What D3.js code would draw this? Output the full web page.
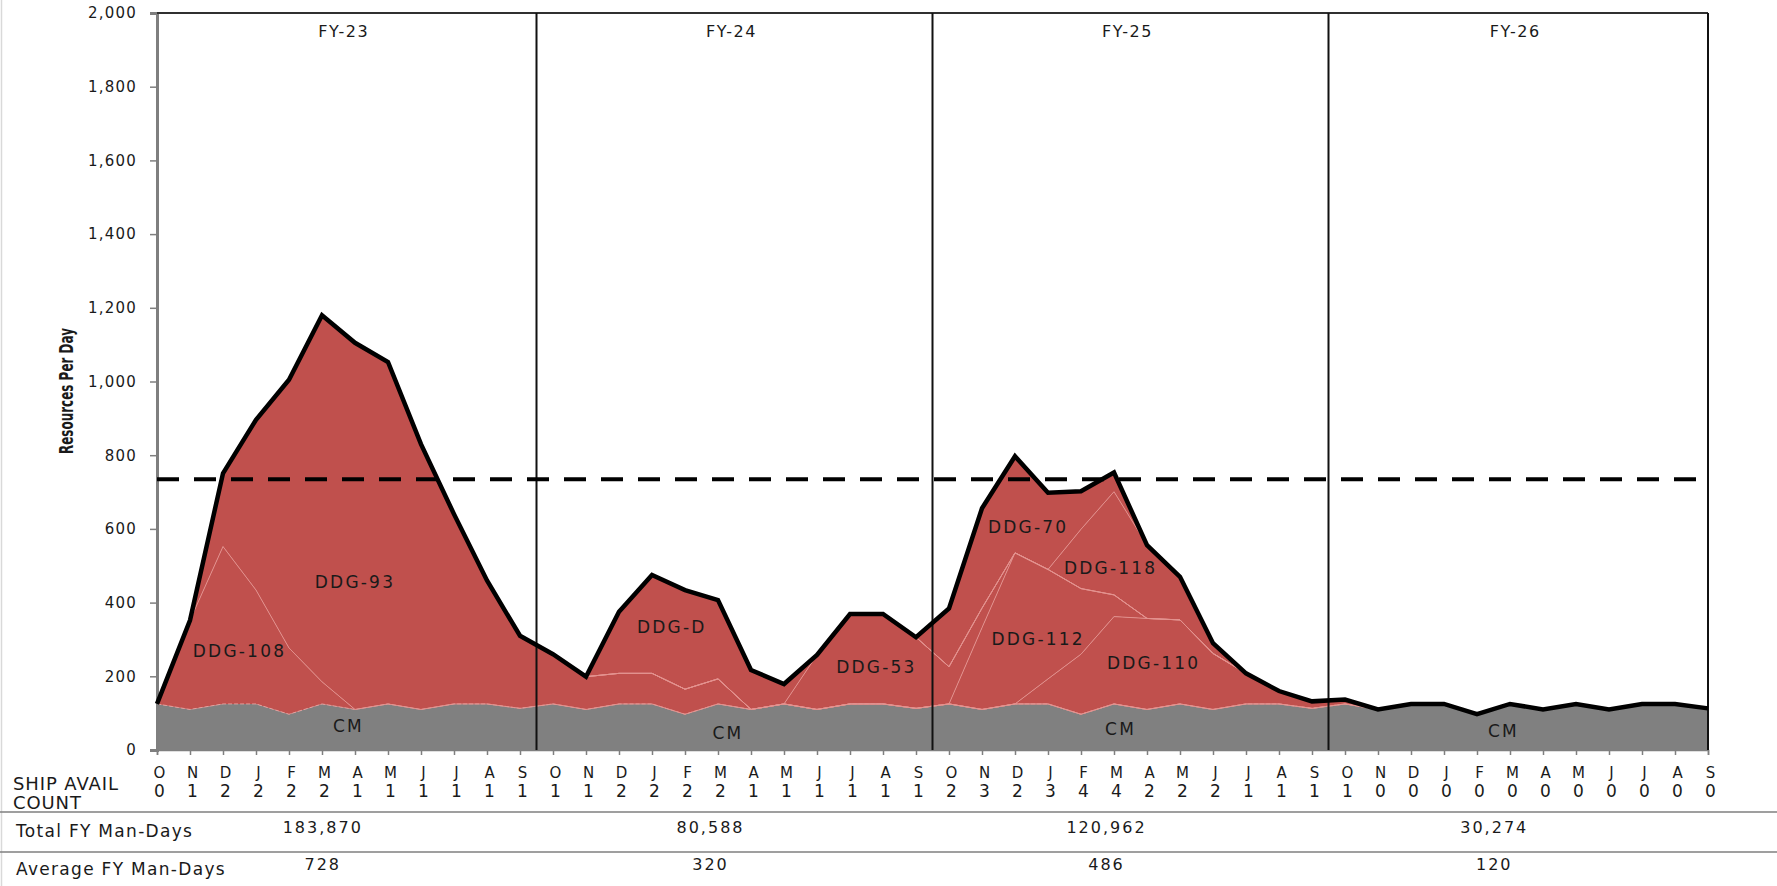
<!DOCTYPE html>
<html>
<head>
<meta charset="utf-8">
<script src="https://cdn.jsdelivr.net/npm/d3@7"></script>
<style>
body { margin: 0; background: #fff; }
text { font-family: "DejaVu Sans", sans-serif; fill: #1a1a1a; }
</style>
</head>
<body>
<svg width="1777" height="886"></svg>
<script>
const months = ['O', 'N', 'D', 'J', 'F', 'M', 'A', 'M', 'J', 'J', 'A', 'S'];
const fiscalYears = ['FY-23', 'FY-24', 'FY-25', 'FY-26'];
const totalManDays = ['183,870', '80,588', '120,962', '30,274'];
const averageManDays = ['728', '320', '486', '120'];
const shipAvailCount = [0, 1, 2, 2, 2, 2, 1, 1, 1, 1, 1, 1,
  1, 1, 2, 2, 2, 2, 1, 1, 1, 1, 1, 1,
  2, 3, 2, 3, 4, 4, 2, 2, 2, 1, 1, 1,
  1, 0, 0, 0, 0, 0, 0, 0, 0, 0, 0, 0];
const yTicks = [0, 200, 400, 600, 800, 1000, 1200, 1400, 1600, 1800, 2000];
const capacityLine = 735;

// resources per day, one value per month, Oct FY-23 .. Sep FY-26
const cm = [125, 110, 125, 125, 97, 125, 110, 125, 110, 125, 125, 113,
  125, 110, 125, 125, 97, 125, 110, 125, 110, 125, 125, 113,
  125, 110, 125, 125, 97, 125, 110, 125, 110, 125, 125, 113,
  125, 110, 125, 125, 97, 125, 110, 125, 110, 125, 125, 113];
const ddg108 = [0, 242, 427, 309, 180, 60, 0, 0, 0, 0, 0, 0,
  0, 0, 0, 0, 0, 0, 0, 0, 0, 0, 0, 0,
  0, 0, 0, 0, 0, 0, 0, 0, 0, 0, 0, 0,
  0, 0, 0, 0, 0, 0, 0, 0, 0, 0, 0, 0];
const ddg93 = [0, 0, 199, 462, 728, 995, 995, 928, 720, 515, 335, 197,
  135, 89, 83, 83, 68, 68, 0, 0, 0, 0, 0, 0,
  0, 0, 0, 0, 0, 0, 0, 0, 0, 0, 0, 0,
  0, 0, 0, 0, 0, 0, 0, 0, 0, 0, 0, 0];
const ddg110 = [0, 0, 0, 0, 0, 0, 0, 0, 0, 0, 0, 0,
  0, 0, 0, 0, 0, 0, 0, 0, 0, 0, 0, 0,
  0, 0, 0, 68, 163, 237, 247, 228, 152, 83, 35, 19,
  12, 0, 0, 0, 0, 0, 0, 0, 0, 0, 0, 0];
const ddg112 = [0, 0, 0, 0, 0, 0, 0, 0, 0, 0, 0, 0,
  0, 0, 0, 0, 0, 0, 0, 0, 0, 0, 0, 0,
  0, 222, 410, 297, 178, 59, 0, 0, 0, 0, 0, 0,
  0, 0, 0, 0, 0, 0, 0, 0, 0, 0, 0, 0];
const ddg53 = [0, 0, 0, 0, 0, 0, 0, 0, 0, 0, 0, 0,
  0, 0, 0, 0, 0, 0, 0, 0, 148, 244, 244, 193,
  101, 53, 0, 0, 0, 0, 0, 0, 0, 0, 0, 0,
  0, 0, 0, 0, 0, 0, 0, 0, 0, 0, 0, 0];
const ddgD = [0, 0, 0, 0, 0, 0, 0, 0, 0, 0, 0, 0,
  0, 0, 167, 267, 269, 214, 107, 54, 0, 0, 0, 0,
  0, 0, 0, 0, 0, 0, 0, 0, 0, 0, 0, 0,
  0, 0, 0, 0, 0, 0, 0, 0, 0, 0, 0, 0];
const ddg118 = [0, 0, 0, 0, 0, 0, 0, 0, 0, 0, 0, 0,
  0, 0, 0, 0, 0, 0, 0, 0, 0, 0, 0, 0,
  0, 0, 0, 0, 161, 280, 199, 117, 28, 0, 0, 0,
  0, 0, 0, 0, 0, 0, 0, 0, 0, 0, 0, 0];
const ddg70 = [0, 0, 0, 0, 0, 0, 0, 0, 0, 0, 0, 0,
  0, 0, 0, 0, 0, 0, 0, 0, 0, 0, 0, 0,
  158, 271, 262, 208, 103, 52, 0, 0, 0, 0, 0, 0,
  0, 0, 0, 0, 0, 0, 0, 0, 0, 0, 0, 0];

const seriesKeys = ['CM', 'DDG-108', 'DDG-93', 'DDG-110', 'DDG-112', 'DDG-53', 'DDG-D', 'DDG-118', 'DDG-70'];
const seriesValues = [cm, ddg108, ddg93, ddg110, ddg112, ddg53, ddgD, ddg118, ddg70];

// where the name of each area sits: [name, month index, value]
const areaLabels = [
  ['DDG-108', 2.5, 269], ['DDG-93', 6.0, 456], ['CM', 5.8, 65],
  ['DDG-D', 15.6, 334], ['CM', 17.3, 46], ['DDG-53', 21.8, 225],
  ['DDG-70', 26.4, 605], ['DDG-118', 28.9, 494], ['DDG-112', 26.7, 301],
  ['DDG-110', 30.2, 236], ['CM', 29.2, 57], ['CM', 40.8, 52]
];

const table = months.concat(months, months, months).map((m, i) => {
  const row = { i: i };
  seriesKeys.forEach((k, s) => { row[k] = seriesValues[s][i]; });
  return row;
});

const svg = d3.select('svg');
const width = +svg.attr('width');
const height = +svg.attr('height');
const margin = { top: 13, right: 69, bottom: 136, left: 157 };
const chartWidth = width - margin.left - margin.right;
const chartHeight = height - margin.top - margin.bottom;

svg.append('rect').attr('width', width).attr('height', height).attr('fill', '#fff');
svg.append('line') // faint left edge
  .attr('x1', 1.5).attr('x2', 1.5).attr('y1', 0).attr('y2', height)
  .attr('stroke', '#d9d9d9').attr('stroke-width', 1.5);

const g = svg.append('g').attr('transform', `translate(${margin.left},${margin.top})`);

const x = d3.scaleLinear().domain([0, table.length - 1]).range([0, chartWidth]);
const y = d3.scaleLinear().domain([0, 2000]).range([chartHeight, 0]);

const stacked = d3.stack().keys(seriesKeys)(table);

const area = d3.area()
  .x(d => x(d.data.i))
  .y0(d => y(d[0]))
  .y1(d => y(d[1]));

g.selectAll('.layer')
  .data(stacked)
  .enter()
  .append('path')
  .attr('class', 'layer')
  .attr('d', area)
  .attr('fill', d => d.key === 'CM' ? '#808080' : '#c0504d');

// faint borders between the stacked layers
const topLine = d3.line().x(d => x(d.data.i)).y(d => y(d[1]));
g.selectAll('.edge')
  .data(stacked.slice(0, -1))
  .enter()
  .append('path')
  .attr('class', 'edge')
  .attr('d', topLine)
  .attr('fill', 'none')
  .attr('stroke', d => d.key === 'CM' ? '#e7a3a0' : '#e3928f')
  .attr('stroke-width', 0.9)
  .attr('stroke-dasharray', d => d.key === 'CM' ? '4,2' : null);

// axes
const yAxis = g.append('g')
  .call(d3.axisLeft(y).tickValues(yTicks).tickFormat(d3.format(',')).tickSize(7).tickPadding(13));
yAxis.select('.domain').attr('stroke', '#7f7f7f').attr('stroke-width', 3);
yAxis.selectAll('.tick line').attr('stroke', '#7f7f7f').attr('stroke-width', 1.5);
yAxis.selectAll('.tick text')
  .attr('font-size', 15).attr('letter-spacing', 1.2).attr('fill', '#222')
  .attr('font-family', '"DejaVu Sans", sans-serif');

const xAxis = g.append('g')
  .attr('transform', `translate(0,${chartHeight})`)
  .call(d3.axisBottom(x).tickValues(d3.range(table.length)).tickSize(5).tickFormat(''));
xAxis.select('.domain').attr('stroke', '#7f7f7f').attr('stroke-width', 1.5);
xAxis.selectAll('.tick line').attr('stroke', '#7f7f7f').attr('stroke-width', 1.5);
xAxis.selectAll('.tick').append('text')
  .attr('x', 2).attr('y', 23).attr('dy', '0.35em')
  .attr('font-size', 15).attr('fill', '#1a1a1a')
  .text(i => months[i % 12]);
xAxis.selectAll('.tick').append('text')
  .attr('x', 2).attr('y', 41).attr('dy', '0.35em')
  .attr('font-size', 17).attr('fill', '#1a1a1a')
  .text(i => shipAvailCount[i]);

// plot frame and fiscal year dividers
g.append('line')
  .attr('x1', 0).attr('x2', chartWidth).attr('y1', 0).attr('y2', 0)
  .attr('stroke', '#303030').attr('stroke-width', 2);
const dividers = [11.5, 23.5, 35.5, table.length - 1];
g.selectAll('.divider')
  .data(dividers)
  .enter()
  .append('line')
  .attr('class', 'divider')
  .attr('x1', d => x(d)).attr('x2', d => x(d))
  .attr('y1', 0).attr('y2', chartHeight)
  .attr('stroke', '#111').attr('stroke-width', 2);

// total resources line
const totals = stacked[stacked.length - 1].map(d => d[1]);
g.append('path')
  .datum(totals)
  .attr('d', d3.line().x((d, i) => x(i)).y(d => y(d)))
  .attr('fill', 'none')
  .attr('stroke', '#000')
  .attr('stroke-width', 4.5)
  .attr('stroke-linejoin', 'miter');

// capacity line
g.append('line')
  .attr('x1', 0).attr('x2', chartWidth)
  .attr('y1', y(capacityLine)).attr('y2', y(capacityLine))
  .attr('stroke', '#000').attr('stroke-width', 4)
  .attr('stroke-dasharray', '22,15');

// fiscal year titles
const fyStart = [0, 11.5, 23.5, 35.5];
const fyEnd = [11.5, 23.5, 35.5, table.length - 1];
g.selectAll('.fy')
  .data(fiscalYears)
  .enter()
  .append('text')
  .attr('class', 'fy')
  .attr('x', (d, k) => (x(fyStart[k]) + x(fyEnd[k])) / 2 - 3)
  .attr('y', 18).attr('dy', '0.35em')
  .attr('text-anchor', 'middle')
  .attr('font-size', 16).attr('letter-spacing', 1.6)
  .text(d => d);

// area names
g.selectAll('.area-label')
  .data(areaLabels)
  .enter()
  .append('text')
  .attr('class', 'area-label')
  .attr('x', d => x(d[1]))
  .attr('y', d => y(d[2]))
  .attr('dy', '0.35em')
  .attr('text-anchor', 'middle')
  .attr('font-size', 17).attr('letter-spacing', 2.2)
  .text(d => d[0]);

// y axis title
svg.append('text')
  .attr('transform', 'translate(66,391) rotate(-90)')
  .attr('text-anchor', 'middle').attr('dy', '0.35em')
  .attr('font-size', 19).attr('font-weight', 'bold')
  .attr('textLength', 126).attr('lengthAdjust', 'spacingAndGlyphs')
  .text('Resources Per Day');

// table under the chart
svg.append('text').attr('x', 13).attr('y', 784).attr('dy', '0.35em')
  .attr('font-size', 18).attr('letter-spacing', 0.9).text('SHIP AVAIL');
svg.append('text').attr('x', 13).attr('y', 803).attr('dy', '0.35em')
  .attr('font-size', 18).attr('letter-spacing', 0.9).text('COUNT');

[812, 852].forEach(ly => {
  svg.append('line')
    .attr('x1', 0).attr('x2', width).attr('y1', ly).attr('y2', ly)
    .attr('stroke', '#7f7f7f').attr('stroke-width', 1.5);
});

svg.append('text').attr('x', 16).attr('y', 831).attr('dy', '0.35em')
  .attr('font-size', 17).attr('letter-spacing', 1.3).text('Total FY Man-Days');
svg.append('text').attr('x', 16).attr('y', 869).attr('dy', '0.35em')
  .attr('font-size', 17).attr('letter-spacing', 1.3).text('Average FY Man-Days');

const fyCenter = k => margin.left + (x(fyStart[k]) + x(fyEnd[k])) / 2 - 24;
svg.selectAll('.total-md')
  .data(totalManDays)
  .enter()
  .append('text')
  .attr('x', (d, k) => fyCenter(k)).attr('y', 827).attr('dy', '0.35em')
  .attr('text-anchor', 'middle')
  .attr('font-size', 16).attr('letter-spacing', 2)
  .text(d => d);
svg.selectAll('.avg-md')
  .data(averageManDays)
  .enter()
  .append('text')
  .attr('x', (d, k) => fyCenter(k)).attr('y', 864).attr('dy', '0.35em')
  .attr('text-anchor', 'middle')
  .attr('font-size', 16).attr('letter-spacing', 2)
  .text(d => d);
</script>
</body>
</html>
